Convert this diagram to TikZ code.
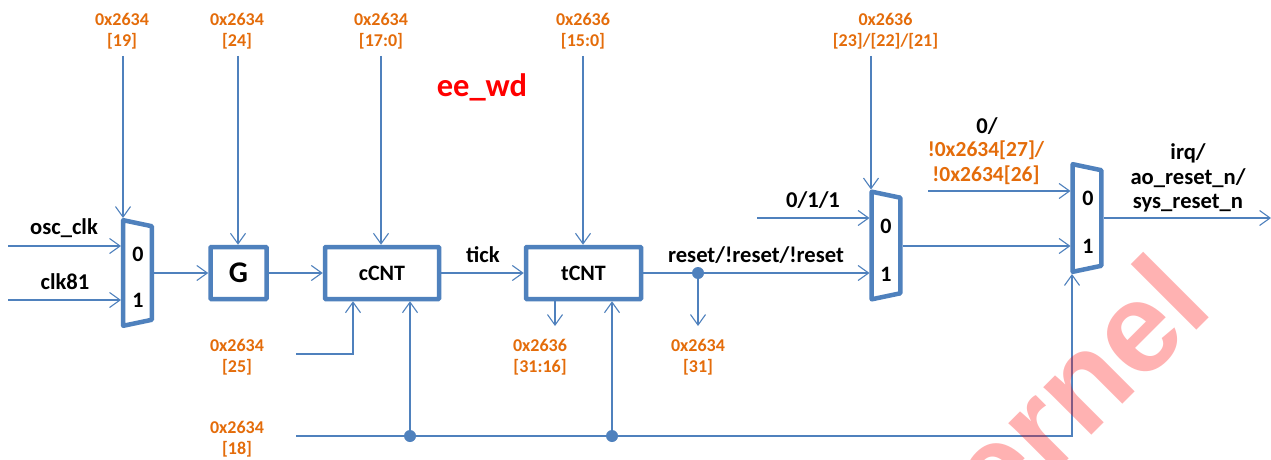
\documentclass[tikz,border=0pt]{standalone}
\usepackage{fontspec}
\setmainfont{Carlito}
\newfontfamily\wmfont{Liberation Sans}
\usetikzlibrary{arrows.meta}
\definecolor{wireblue}{HTML}{4F81BD}
\definecolor{regorange}{HTML}{E46C0A}
\tikzset{
  x=1pt,y=-1pt,
  wire/.style={draw=wireblue,line width=1.2pt},
  arrowwire/.style={wire,-{Straight Barb[length=10.5pt,width=15pt,line width=1.1pt]}},
  blockbox/.style={draw=wireblue,line width=4.5pt,rounded corners=0.8pt,inner sep=0pt,text=black,font=\bfseries\fontsize{22}{24}\selectfont},
  muxnode/.style={inner sep=0pt,outer sep=0pt,minimum width=33pt},
  muxline/.style={draw=wireblue,line width=4.5pt,line join=round},
  dotnode/.style={circle,fill=wireblue,inner sep=0pt,minimum size=12pt},
  sig/.style={inner sep=0pt,align=center,text=black,font=\bfseries\fontsize{22.6}{24.6}\selectfont},
  reg/.style={inner sep=0pt,align=center,text=regorange,font=\bfseries\fontsize{18}{20.7}\selectfont},
  regbig/.style={inner sep=0pt,align=center,text=regorange,font=\bfseries\fontsize{21.5}{24.6}\selectfont},
  digit/.style={inner sep=0pt,text=black,font=\bfseries\fontsize{22}{24}\selectfont},
}
\newcommand{\muxoutline}[1]{%
  \draw[muxline] ([shift={(2.2,2.2)}]#1.north west)
    -- ([shift={(-2.2,8.2)}]#1.north east)
    -- ([shift={(-2.2,-8.2)}]#1.south east)
    -- ([shift={(2.2,-2.2)}]#1.south west) -- cycle;}
\begin{document}
\begin{tikzpicture}
\useasboundingbox (0,0) rectangle (1271,460);
\fill[white] (0,0) rectangle (1271,460);

% blocks
\node[blockbox,minimum width=56pt,minimum height=52pt,font=\bfseries\fontsize{30}{32}\selectfont] (g) at (238.5,273) {G};
\node[blockbox,minimum width=114pt,minimum height=52pt] (cc) at (382,273) {cCNT};
\node[blockbox,minimum width=115pt,minimum height=52pt] (tc) at (583.5,273) {tCNT};
\node[muxnode,minimum height=110pt] (m1) at (137.5,273) {};
\node[muxnode,minimum height=112pt] (m2) at (886,245.5) {};
\node[muxnode,minimum height=112pt] (m3) at (1087,218) {};
\muxoutline{m1}\muxoutline{m2}\muxoutline{m3}
\node[digit] (m1a) at (138,254) {0};
\node[digit] (m1b) at (138,300) {1};
\node[digit] (m2a) at (886,226) {0};
\node[digit] (m2b) at (886,274) {1};
\node[digit] (m3a) at (1088,198) {0};
\node[digit] (m3b) at (1088,246) {1};

% free ends
\coordinate (t1) at (123,56);
\coordinate (t2) at (238,56);
\coordinate (t3) at (381,56);
\coordinate (t4) at (583,56);
\coordinate (t5) at (871,56);
\coordinate (osc) at (8,246);
\coordinate (c81) at (8,300);
\coordinate (r25) at (296,354);
\coordinate (r25c) at (353,354);
\coordinate (r18) at (296,436);
\coordinate (r18c) at (1072,436);
\coordinate (ones) at (757,218);
\coordinate (zero) at (928,191);
\coordinate (out) at (1271,218);
\coordinate (tbit) at (555,326);
\coordinate (rbit) at (698,326);
\node[dotnode] (d1) at (410,436) {};
\node[dotnode] (d2) at (612,436) {};
\node[dotnode] (d3) at (698,273) {};

% connectors
\draw[arrowwire] (t1) -- (t1 |- m1.north);
\draw[arrowwire] (t2) -- (t2 |- g.north);
\draw[arrowwire] (t3) -- (t3 |- cc.north);
\draw[arrowwire] (t4) -- (t4 |- tc.north);
\draw[arrowwire] (t5) -- (t5 |- m2.north);
\draw[arrowwire] (osc) -- (osc -| m1.west);
\draw[arrowwire] (c81) -- (c81 -| m1.west);
\draw[arrowwire] (m1.east |- g.west) -- (g.west);
\draw[arrowwire] (g.east) -- (cc.west);
\draw[arrowwire] (cc.east) -- (tc.west);
\draw[wire] (tc.east) -- (d3);
\draw[arrowwire] (d3) -- (d3 -| m2.west);
\draw[arrowwire] (d3) -- (rbit);
\draw[arrowwire] (tbit |- tc.south) -- (tbit);
\draw[arrowwire] (r25) -- (r25c) -- (r25c |- cc.south);
\draw[wire] (r18) -- (d1);
\draw[wire] (d1) -- (d2);
\draw[arrowwire] (d2) -- (r18c) -- (r18c |- m3.south);
\draw[arrowwire] (d1) -- (d1 |- cc.south);
\draw[arrowwire] (d2) -- (d2 |- tc.south);
\draw[arrowwire] (ones) -- (ones -| m2.west);
\draw[arrowwire] (zero) -- (zero -| m3.west);
\draw[arrowwire] (m2.east |- m3b) -- (m3.west |- m3b);
\draw[arrowwire] (m3.east |- out) -- (out);

% labels
\node[reg] (l1) at (122,31) {0x2634\\{}[19]};
\node[reg] (l2) at (237,31) {0x2634\\{}[24]};
\node[reg] (l3) at (381,31) {0x2634\\{}[17:0]};
\node[reg] (l4) at (583,31) {0x2636\\{}[15:0]};
\node[reg] (l5) at (885.5,31) {0x2636\\{}[23]/[22]/[21]};
\node[reg] (l6) at (237,357) {0x2634\\{}[25]};
\node[reg] (l7) at (237,439) {0x2634\\{}[18]};
\node[reg] (l8) at (540,357) {0x2636\\{}[31:16]};
\node[reg] (l9) at (698,357) {0x2634\\{}[31]};
\node[inner sep=0pt,text=red,font=\bfseries\fontsize{32.5}{34}\selectfont] (title) at (482,87) {ee\_wd};
\node[sig] (s1) at (64,228) {osc\_clk};
\node[sig] (s2) at (65,282) {clk81};
\node[sig] (s3) at (483,255) {tick};
\node[sig] (s4) at (756,255) {reset/!reset/!reset};
\node[sig] (s5) at (813,200) {0/1/1};
\node[sig] (s6) at (987,126) {0/};
\node[regbig] (s7) at (986,162.5) {!0x2634[27]/\\!0x2634[26]};
\node[sig] (s8) at (1188,178) {irq/\\ao\_reset\_n/\\sys\_reset\_n};

% watermark
\begin{scope}
\clip (0,0) rectangle (1271,460);
\node[rotate=45,anchor=base east,inner sep=0pt,outer sep=0pt,text=red,text opacity=.3,font=\wmfont\bfseries\fontsize{128}{130}\selectfont] (wm) at (1216,311) {ernel};
\end{scope}
\end{tikzpicture}
\end{document}
